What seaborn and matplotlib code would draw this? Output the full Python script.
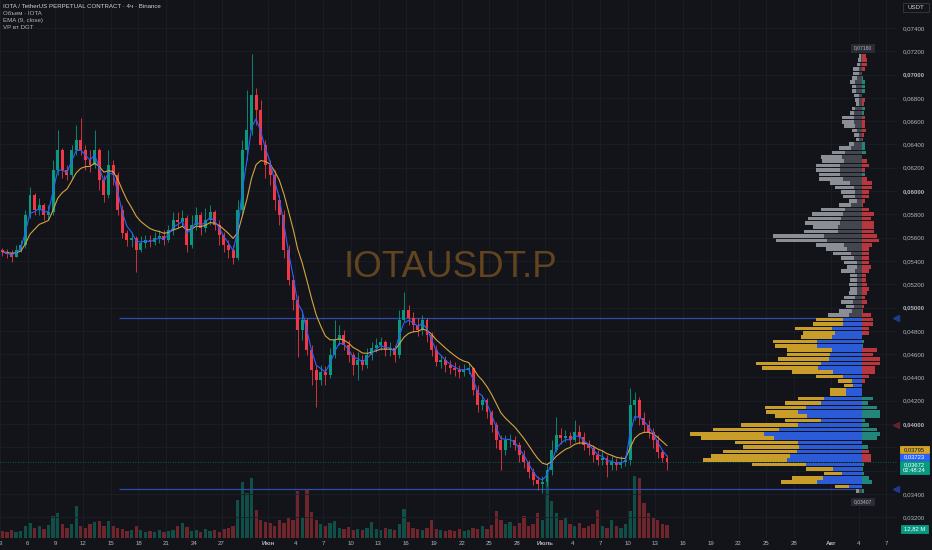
import numpy as np
import pandas as pd
import matplotlib
matplotlib.use("Agg")
import matplotlib.pyplot as plt
import matplotlib.dates as mdates
from matplotlib.patches import Rectangle
import seaborn as sns

# 12h candles, first one opens 2025-05-03 00:00
first_open = 0.05494
close = [0.05477, 0.05460, 0.05434, 0.05494, 0.05537, 0.05795, 0.05966, 0.05838, 0.05881, 0.05795,
         0.05821, 0.06181, 0.06353, 0.06181, 0.06138, 0.06353, 0.06439, 0.06353, 0.06267, 0.06224,
         0.06353, 0.06095, 0.05966, 0.06224, 0.06138, 0.05838, 0.05640, 0.05580, 0.05597, 0.05494,
         0.05554, 0.05580, 0.05563, 0.05597, 0.05615, 0.05580, 0.05666, 0.05752, 0.05735, 0.05769,
         0.05537, 0.05709, 0.05795, 0.05683, 0.05752, 0.05821, 0.05709, 0.05623, 0.05537, 0.05494,
         0.05426, 0.05838, 0.06353, 0.06524, 0.06825, 0.06696, 0.06396, 0.06224, 0.06138, 0.05924,
         0.05795, 0.05494, 0.05237, 0.05065, 0.04807, 0.04893, 0.04636, 0.04464, 0.04378, 0.04447,
         0.04421, 0.04593, 0.04722, 0.04765, 0.04679, 0.04593, 0.04507, 0.04550, 0.04507, 0.04593,
         0.04653, 0.04679, 0.04705, 0.04636, 0.04653, 0.04593, 0.04893, 0.04979, 0.04911, 0.04850,
         0.04807, 0.04893, 0.04765, 0.04636, 0.04533, 0.04550, 0.04507, 0.04481, 0.04464, 0.04447,
         0.04464, 0.04481, 0.04292, 0.04164, 0.04207, 0.04104, 0.03992, 0.03864, 0.03778, 0.03864,
         0.03864, 0.03821, 0.03735, 0.03675, 0.03589, 0.03520, 0.03486, 0.03503, 0.03606, 0.03778,
         0.03906, 0.03881, 0.03898, 0.03864, 0.03932, 0.03889, 0.03821, 0.03795, 0.03735, 0.03692,
         0.03709, 0.03649, 0.03675, 0.03649, 0.03675, 0.03692, 0.04164, 0.04207, 0.04052, 0.03992,
         0.03932, 0.03864, 0.03761, 0.03709, 0.03672]
high = [0.05512, 0.05503, 0.05494, 0.05537, 0.05580, 0.05838, 0.06035, 0.05984, 0.05941, 0.05898,
        0.05881, 0.06267, 0.06524, 0.06370, 0.06224, 0.06396, 0.06567, 0.06628, 0.06396, 0.06353,
        0.06524, 0.06370, 0.06138, 0.06353, 0.06267, 0.06164, 0.05881, 0.05666, 0.05649, 0.05615,
        0.05615, 0.05623, 0.05623, 0.05649, 0.05666, 0.05666, 0.05709, 0.05821, 0.05821, 0.05838,
        0.05795, 0.05795, 0.05863, 0.05821, 0.05855, 0.05881, 0.05838, 0.05752, 0.05649, 0.05580,
        0.05537, 0.05924, 0.06439, 0.06868, 0.07180, 0.06885, 0.06782, 0.06439, 0.06267, 0.06181,
        0.05966, 0.05838, 0.05537, 0.05280, 0.05108, 0.04979, 0.04911, 0.04679, 0.04507, 0.04507,
        0.04499, 0.04653, 0.04893, 0.04850, 0.04807, 0.04722, 0.04619, 0.04619, 0.04593, 0.04653,
        0.04705, 0.04739, 0.04747, 0.04722, 0.04705, 0.04679, 0.04979, 0.05134, 0.05022, 0.04962,
        0.04911, 0.04936, 0.04911, 0.04790, 0.04679, 0.04593, 0.04584, 0.04550, 0.04533, 0.04507,
        0.04516, 0.04524, 0.04490, 0.04335, 0.04250, 0.04224, 0.04121, 0.04018, 0.03906, 0.03906,
        0.03915, 0.03898, 0.03846, 0.03778, 0.03692, 0.03623, 0.03554, 0.03554, 0.03666, 0.03864,
        0.04061, 0.03966, 0.03949, 0.03932, 0.04035, 0.03992, 0.03932, 0.03864, 0.03821, 0.03778,
        0.03778, 0.03735, 0.03735, 0.03709, 0.03726, 0.03735, 0.04310, 0.04275, 0.04232, 0.04104,
        0.04035, 0.03966, 0.03906, 0.03778, 0.03735]
low = [0.05443, 0.05426, 0.05391, 0.05434, 0.05477, 0.05512, 0.05769, 0.05795, 0.05795, 0.05752,
       0.05752, 0.05795, 0.06138, 0.06112, 0.06095, 0.06112, 0.06310, 0.06310, 0.06181, 0.06164,
       0.06198, 0.06009, 0.05906, 0.05941, 0.06052, 0.05795, 0.05597, 0.05529, 0.05520, 0.05305,
       0.05477, 0.05512, 0.05520, 0.05537, 0.05554, 0.05537, 0.05563, 0.05623, 0.05683, 0.05700,
       0.05477, 0.05512, 0.05666, 0.05623, 0.05649, 0.05709, 0.05666, 0.05537, 0.05477, 0.05426,
       0.05374, 0.05408, 0.05795, 0.06267, 0.06481, 0.06567, 0.06353, 0.06112, 0.06052, 0.05838,
       0.05709, 0.05426, 0.05194, 0.04979, 0.04576, 0.04722, 0.04593, 0.04335, 0.04147, 0.04335,
       0.04335, 0.04395, 0.04567, 0.04679, 0.04636, 0.04533, 0.04421, 0.04378, 0.04464, 0.04481,
       0.04550, 0.04619, 0.04636, 0.04584, 0.04584, 0.04533, 0.04567, 0.04876, 0.04850, 0.04790,
       0.04756, 0.04765, 0.04705, 0.04584, 0.04499, 0.04481, 0.04447, 0.04430, 0.04413, 0.04395,
       0.04413, 0.04430, 0.04250, 0.04104, 0.04121, 0.04052, 0.03932, 0.03795, 0.03606, 0.03735,
       0.03803, 0.03778, 0.03675, 0.03623, 0.03537, 0.03477, 0.03434, 0.03407, 0.03469, 0.03563,
       0.03761, 0.03829, 0.03846, 0.03821, 0.03846, 0.03829, 0.03778, 0.03735, 0.03675, 0.03649,
       0.03649, 0.03546, 0.03606, 0.03606, 0.03623, 0.03640, 0.03649, 0.04035, 0.03992, 0.03932,
       0.03881, 0.03795, 0.03709, 0.03675, 0.03606]
# volume per candle, millions IOTA
volume = [7, 6, 8, 6, 7, 12, 15, 10, 12, 9,
          13, 22, 25, 14, 10, 14, 32, 12, 10, 14,
          16, 17, 12, 17, 12, 10, 9, 7, 8, 12,
          8, 6, 7, 6, 8, 6, 7, 8, 12, 15,
          11, 7, 8, 6, 9, 7, 8, 6, 9, 10,
          12, 38, 56, 45, 60, 28, 18, 16, 15, 12,
          18, 15, 20, 18, 47, 20, 48, 26, 18, 14,
          12, 15, 17, 10, 9, 11, 8, 9, 8, 10,
          16, 9, 8, 10, 9, 8, 14, 29, 16, 10,
          9, 8, 10, 18, 9, 8, 7, 8, 7, 9,
          7, 8, 10, 9, 12, 9, 13, 27, 18, 14,
          16, 12, 15, 22, 12, 14, 25, 18, 65, 37,
          25, 18, 20, 14, 12, 15, 10, 12, 14, 28,
          12, 10, 18, 12, 10, 14, 27, 62, 60, 35,
          25, 20, 18, 14, 12.82]

# volume profile (VP by DGT), 100 rows between 0.03407 and 0.07180, top row first
vp_low, vp_high = 0.03407, 0.07180
vp_total = [2.7, 3.7, 4.7, 8.7, 8.7, 10.3, 12, 10.3, 10.3, 7.7,
            6.7, 6, 10.3, 12, 19.7, 19.7, 17.7, 10.3, 7.7, 6,
            13, 22.7, 30.3, 41, 39.7, 46, 46, 42.7, 42.7, 32,
            27, 21, 18.7, 13.3, 22.7, 41, 50.3, 53.7, 56.7, 49,
            58, 88.7, 86, 46, 36, 29.3, 21, 17.7, 14.7, 21,
            12, 12, 13.3, 12, 13.3, 17.7, 21, 16, 23, 34,
            46, 49, 67, 59, 61, 89, 87, 75, 75, 84,
            106, 100, 70, 46, 24, 18, 32, 32, 64, 77,
            97, 96, 87, 77, 121, 149, 172, 161, 127, 119,
            139, 151, 159, 110, 56, 38, 70, 81, 27, 6]
vp_inner = [1.3, 1.5, 2, 2.7, 3.3, 5.3, 6.7, 6, 6, 3.3,
            3.3, 2.7, 7, 8, 8, 8, 6.7, 4.7, 3.3, 2.7,
            8, 11.3, 17, 20.3, 18, 22, 22, 22, 18.7, 12,
            8, 6.7, 6.7, 4.7, 11.3, 17, 18.7, 21.3, 22, 23.7,
            23.7, 38, 34.7, 18, 14.7, 11.3, 8, 5.3, 4.7, 6.7,
            4.7, 4.7, 5.3, 4.7, 5.3, 7, 9, 8, 10, 13,
            19, 19, 30, 27, 30, 45, 45, 30, 32, 33,
            41, 44, 29, 19, 10, 9, 16, 16, 38, 41,
            56, 64, 55, 41, 64, 83, 98, 88, 64, 63,
            65, 72, 75, 56, 29, 20, 39, 45, 13, 3]
vp_delta = [-4, -5.3, -5.3, -2.7, 0, 1.3, 2.7, 2.7, 2.7, 0,
            -3.3, -2.3, 2.7, 2, -3.3, -3.3, -2.7, -4, -2, -1.3,
            2.7, 2.7, 4, 0, -5.3, -7, -3.3, 2.7, -5.3, -10,
            -10, -7, -7, -3.3, -1.3, -6.7, -12, -8.7, -12, -12,
            -12, -14.7, -16.7, -10, -7, -7, -7, -7, -8.7, -7,
            -4, -4, -5.3, -7, -5.3, -3.3, -5, -2, -1, -9,
            -11, -11, -7, -7, 0, 2, 1, -15, -11, -18,
            -18, -13, -13, -7, -3, 0, 0, 0, 11, 6,
            15, 18, 18, 3, 7, 15, 18, 15, 0, 6,
            -7, -9, -9, 2, 1, 2, 7, 10, 0, 2]
va_low, va_high = 0.03445, 0.04914

price_ticks = [0.074, 0.072, 0.070, 0.068, 0.066, 0.064, 0.062, 0.060, 0.058, 0.056, 0.054,
               0.052, 0.050, 0.048, 0.046, 0.044, 0.042, 0.040, 0.038, 0.036, 0.034, 0.032]
hidden_ticks = [0.038, 0.036]
month_names = {6: 'Июн', 7: 'Июль', 8: 'Авг'}
tick_days = {5: [3, 6, 9, 12, 15, 18, 21, 24, 27],
             6: [1, 4, 7, 10, 13, 16, 19, 22, 25, 28],
             7: [1, 4, 7, 10, 13, 16, 19, 22, 25, 28],
             8: [1, 4, 7]}

BG = '#121419'
GRID = '#1b1e25'
UP, DOWN = '#089981', '#f23645'
TXT = '#b2b5be'
W, H = 932, 550

sns.set_theme(style='dark', rc={'axes.facecolor': BG, 'figure.facecolor': BG})
plt.rcParams['font.family'] = ['Liberation Sans', 'DejaVu Sans']

times = pd.date_range('2025-05-03', periods=len(close), freq='12h') + pd.Timedelta(hours=6)
df = pd.DataFrame({'t': mdates.date2num(times), 'close': close, 'high': high,
                   'low': low, 'volume': volume})
df['open'] = [first_open] + close[:-1]
df['up'] = df['close'] >= df['open']
df['ema_fast'] = df['close'].ewm(span=3, adjust=False).mean()
df['ema_slow'] = df['close'].ewm(span=9, adjust=False).mean()

fig = plt.figure(figsize=(W / 100, H / 100), dpi=100)
ax = fig.add_axes([0, 12 / H, 897 / W, 538 / H])
axv = ax.twinx()
ax.set_zorder(axv.get_zorder() + 1)
ax.patch.set_visible(False)
axv.set_facecolor(BG)

x_left = mdates.date2num(pd.Timestamp('2025-05-03 02:00'))
ax.set_xlim(x_left, x_left + 897 / 9.24)
ax.set_ylim(0.03022, 0.07640)
axv.set_ylim(0, 538)
axv.set_yticks([])

# volume pane
vol_colors = np.where(df['up'], '#0f4f48', '#6e262c')
axv.bar(df['t'], df['volume'], width=0.36, color=vol_colors, linewidth=0)

# candles
colors = np.where(df['up'], UP, DOWN)
ax.vlines(df['t'], df['low'], df['high'], colors=colors, linewidth=0.6, zorder=3)
body_low = np.minimum(df['open'], df['close'])
body_h = np.maximum((df['close'] - df['open']).abs(), 0.00003)
ax.bar(df['t'], body_h, bottom=body_low, width=0.32, color=colors, linewidth=0, zorder=3)

sns.lineplot(x=df['t'], y=df['ema_slow'], ax=ax, color='#d4a441', linewidth=0.8, zorder=4)
sns.lineplot(x=df['t'], y=df['ema_fast'], ax=ax, color='#2962ff', linewidth=0.8, zorder=4)
ax.set_xlabel('')
ax.set_ylabel('')

# volume profile
anchor = mdates.date2num(pd.Timestamp('2025-08-04 09:00'))
vp_start = mdates.date2num(pd.Timestamp('2025-05-15 21:00'))
row_h = (vp_high - vp_low) / len(vp_total)
rows = vp_low + (np.arange(len(vp_total)) + 0.5) * row_h
tot = np.array(vp_total)[::-1]
inn = np.array(vp_inner)[::-1]
dlt = np.array(vp_delta)[::-1]
scale = 18.6 / tot.max()
in_va = (rows > va_low) & (rows < va_high)
outer_c = np.where(in_va, '#c99d2a', '#8b8e95')
inner_c = np.where(in_va, '#2b5bd6', '#43464e')
delta_c = np.where(dlt < 0, '#b8373f', '#22877a')
ax.barh(rows, tot * scale, left=anchor - tot * scale, height=row_h * 0.82,
        color=outer_c, linewidth=0, zorder=5)
ax.barh(rows, inn * scale, left=anchor - inn * scale, height=row_h * 0.82,
        color=inner_c, linewidth=0, zorder=5)
ax.barh(rows, np.abs(dlt) * scale, left=anchor, height=row_h * 0.82,
        color=delta_c, linewidth=0, zorder=5)
ax.hlines([va_high, va_low], vp_start, anchor, color='#2d4dae', linewidth=0.9, zorder=2)
ax.axhline(close[-1], color=UP, linestyle=(0, (1, 2)), linewidth=0.6, alpha=0.7, zorder=2)

ax.text(0.5027, 0.502, 'IOTAUSDT.P', transform=ax.transAxes, ha='center', va='center',
        fontsize=26.5, color='#634420', zorder=1)

# axes, ticks, grid
for sp in list(ax.spines.values()) + list(axv.spines.values()):
    sp.set_visible(False)
ax.yaxis.tick_right()
ax.set_yticks(price_ticks)
ax.set_yticklabels(['' if v in hidden_ticks else f'{v:.5f}'.replace('.', ',') for v in price_ticks])
for lab, v in zip(ax.get_yticklabels(), price_ticks):
    if abs(v * 100 - round(v * 100)) < 1e-9:
        lab.set_fontweight('bold')
ax.tick_params(axis='y', length=0, pad=4.3, labelsize=4.4, labelcolor=TXT)

xt, xl = [], []
for m, days in tick_days.items():
    for d in days:
        xt.append(mdates.date2num(pd.Timestamp(2025, m, d)))
        xl.append(month_names[m] if d == 1 else str(d))
ax.set_xticks(xt)
ax.set_xticklabels(xl)
for lab in ax.get_xticklabels():
    if lab.get_text() in month_names.values():
        lab.set_fontweight('bold')
ax.tick_params(axis='x', length=0, pad=2.2, labelsize=4.4, labelcolor=TXT)
ax.grid(True, color=GRID, linewidth=0.6)
ax.set_axisbelow(True)

# price-scale markers
for p, c in [(va_high, '#1f3a8f'), (va_low, '#1f3a8f'), (0.03990, '#5e252b')]:
    ax.plot([0.999], [p], marker='<', markersize=4, color=c, transform=ax.get_yaxis_transform(),
            clip_on=False, zorder=6)


def px_box(x0, y0, x1, y1, fc, text, tc, ec=None, fs=4.2, bold=False):
    fig.patches.append(Rectangle((x0 / W, 1 - y1 / H), (x1 - x0) / W, (y1 - y0) / H,
                                 transform=fig.transFigure, facecolor=fc,
                                 edgecolor=ec or fc, linewidth=0.6))
    fig.text((x0 + x1) / 2 / W, 1 - (y0 + y1) / 2 / H, text, ha='center', va='center',
             fontsize=fs, color=tc, linespacing=1.0, fontweight='bold' if bold else 'normal')


px_box(903, 3, 929, 12, BG, 'USDT', '#d1d4dc', ec='#363a45', fs=4.4)
px_box(851, 44, 874, 52, '#2a2d35', '0,07180', TXT, fs=3.6)
px_box(851, 498, 874, 505, '#2a2d35', '0,03407', TXT, fs=3.6)
px_box(900, 446, 929, 453, '#d4a32b', '0,03795', '#131722')
px_box(900, 454, 929, 460, '#2962ff', '0,03723', 'white')
px_box(900, 461, 929, 474, UP, '0,03672\n02:48:24', 'white')
px_box(901, 525, 928, 533, UP, '12,82 M', 'white')

legend_lines = ['IOTA / TetherUS PERPETUAL CONTRACT · 4ч · Binance', 'Объем · IOTA',
                'EMA (9, close)', 'VP вт DGT']
for i, line in enumerate(legend_lines):
    fig.text(3 / W, 1 - (6 + 7.2 * i) / H, line, ha='left', va='center', fontsize=4.4,
             color='#d1d4dc' if i == 0 else TXT)

fig.savefig('out.png', dpi=100, facecolor=BG)
